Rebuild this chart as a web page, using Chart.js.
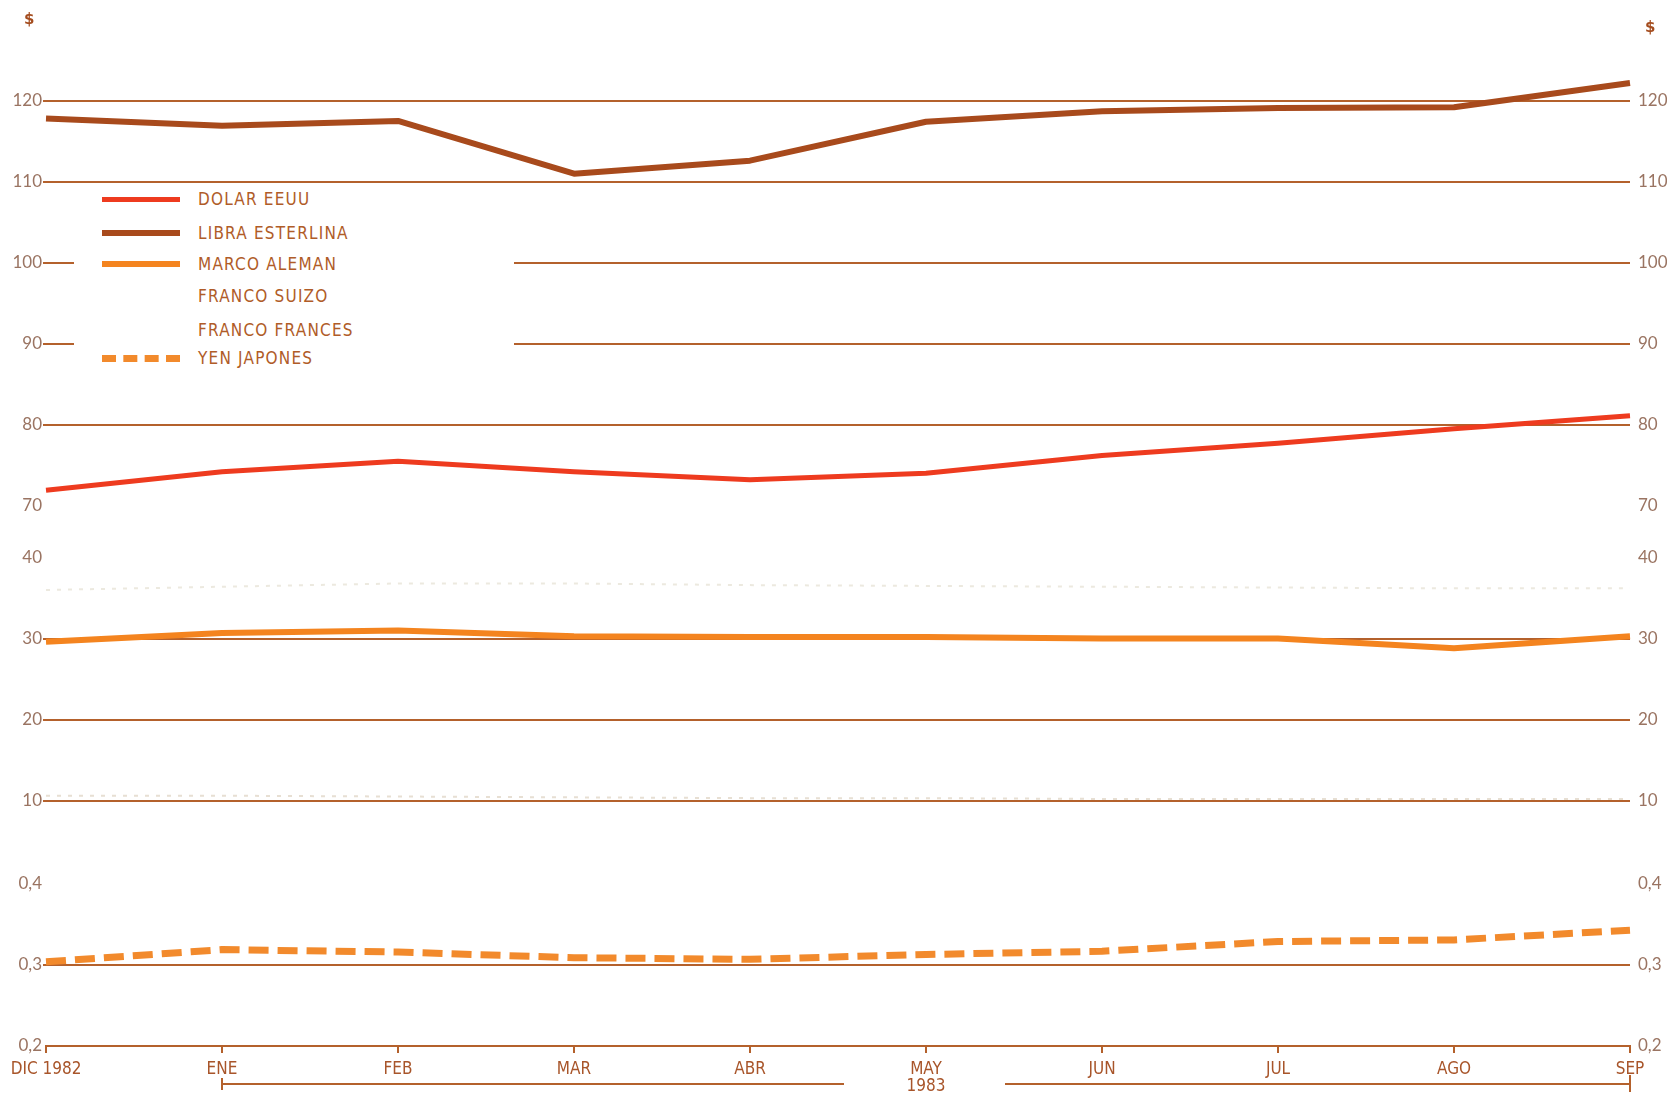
<!DOCTYPE html>
<html>
<head>
<meta charset="utf-8">
<script src="https://cdn.jsdelivr.net/npm/chart.js@4.4.1/dist/chart.umd.min.js"></script>
<style>
  html, body { margin: 0; padding: 0; background: #fff; }
  #wrap { position: relative; width: 1667px; height: 1094px; }
  #legend { position: absolute; left: 74px; top: 186px; width: 440px; height: 190px; background: #fff; }
  .row { position: absolute; left: 0; height: 20px; width: 440px; }
  .swatch { position: absolute; left: 28px; width: 78px; top: 10px; }
  .name { position: absolute; left: 124px; top: 0; font: 17px "Liberation Sans Narrow", "DejaVu Sans Condensed", sans-serif; letter-spacing: 1.2px; color: #b05c28; line-height: 20px; }
  .dollar { position: absolute; font: bold 15px "DejaVu Sans", sans-serif; color: #a44c1e; }
</style>
</head>
<body>
<div id="wrap">
  <canvas id="chart" width="1667" height="1094"></canvas>
  <div id="legend"></div>
  <span class="dollar" style="left:24px; top:10px;">$</span>
  <span class="dollar" style="left:1645px; top:18px;">$</span>
</div>
<script>
// Months (x axis)
const months = ['DIC 1982', 'ENE', 'FEB', 'MAR', 'ABR', ['MAY', '1983'], 'JUN', 'JUL', 'AGO', 'SEP'];

// Series values
const dolar = [71.9, 74.2, 75.5, 74.2, 73.2, 74.0, 76.2, 77.7, 79.5, 81.1];
const libra = [117.8, 116.9, 117.5, 111.0, 112.6, 117.4, 118.7, 119.1, 119.2, 122.2];
const marco = [29.6, 30.7, 31.0, 30.3, 30.2, 30.2, 30.0, 30.0, 28.8, 30.3];
const suizo = [36.0, 36.4, 36.8, 36.8, 36.6, 36.5, 36.4, 36.3, 36.2, 36.2];
const frances = [10.6, 10.6, 10.5, 10.4, 10.3, 10.3, 10.2, 10.2, 10.2, 10.2];
const yen = [0.304, 0.319, 0.316, 0.309, 0.307, 0.313, 0.317, 0.329, 0.331, 0.343];

// Tick labels for the three broken sections of the y axis
const topTicks = [70, 80, 90, 100, 110, 120];
const midTicks = [10, 20, 30, 40];
const lowTicks = [0.2, 0.3, 0.4];
const gridValues = [120, 110, 100, 90, 80, 30, 20, 10, 0.3];

const lineColor = '#b4612c';
const tickColor = '#9a7462';
const xLabelColor = '#a8552a';

const series = [
    { name: 'DOLAR EEUU', data: dolar, axis: 'yTop', color: '#ee3b1f', width: 5, dash: [] },
    { name: 'LIBRA ESTERLINA', data: libra, axis: 'yTop', color: '#a84a1c', width: 6, dash: [] },
    { name: 'MARCO ALEMAN', data: marco, axis: 'yMid', color: '#f4841f', width: 6, dash: [] },
    { name: 'FRANCO SUIZO', data: suizo, axis: 'yMid', color: 'rgba(185,175,140,0.28)', width: 2, dash: [4, 7], hidden: true },
    { name: 'FRANCO FRANCES', data: frances, axis: 'yMid', color: 'rgba(175,150,110,0.3)', width: 2, dash: [4, 7], hidden: true },
    { name: 'YEN JAPONES', data: yen, axis: 'yLow', color: '#f28a2c', width: 7, dash: [20, 9] }
];

// Build one y scale of a stacked (broken) axis
const yScale = (pos, weight, min, max, ticks, unit) => ({
    type: 'linear',
    position: pos,
    stack: pos,
    stackWeight: (max - min) / unit,
    weight: weight,
    min: min,
    max: max,
    afterBuildTicks: s => { s.ticks = ticks.map(v => ({ value: v })); },
    afterFit: s => { s.width = pos === 'left' ? 46 : 37; },
    border: { display: false },
    grid: {
        display: pos === 'left',
        lineWidth: 2,
        tickLength: 3,
        color: c => gridValues.includes(c.tick && c.tick.value) ? lineColor : 'transparent',
        tickColor: c => gridValues.includes(c.tick && c.tick.value) ? lineColor : 'transparent'
    },
    ticks: {
        padding: pos === 'left' ? 1 : 5,
        color: tickColor,
        font: { family: 'Lato, sans-serif', size: 17 },
        callback: v => String(v).replace('.', ',')
    }
});

// Year bracket under the month labels
const yearBracket = {
    id: 'yearBracket',
    afterDraw: (chart) => {
        const xs = chart.scales.x;
        const ctx = chart.ctx;
        const y = xs.top + 38;
        const x1 = xs.getPixelForValue(1);
        const xm = xs.getPixelForValue(5);
        const x2 = xs.getPixelForValue(9);
        ctx.save();
        ctx.strokeStyle = lineColor;
        ctx.lineWidth = 2;
        ctx.beginPath();
        ctx.moveTo(x1, y - 6); ctx.lineTo(x1, y + 6);
        ctx.moveTo(x1, y); ctx.lineTo(xm - 82, y);
        ctx.moveTo(xm + 79, y); ctx.lineTo(x2, y);
        ctx.moveTo(x2, y - 9); ctx.lineTo(x2, y + 8);
        ctx.stroke();
        ctx.restore();
    }
};

const chart = new Chart(document.getElementById('chart'), {
    type: 'line',
    data: {
        labels: months,
        datasets: series.map(s => ({
            label: s.name,
            data: s.data,
            yAxisID: s.axis,
            borderColor: s.color,
            borderWidth: s.width,
            borderDash: s.dash,
            pointRadius: 0,
            tension: 0,
            fill: false,
            borderJoinStyle: 'round'
        }))
    },
    options: {
        responsive: false,
        animation: false,
        layout: { padding: { top: 57, left: 0, right: 0, bottom: 0 } },
        plugins: {
            legend: { display: false },
            tooltip: { enabled: false }
        },
        scales: {
            x: {
                type: 'category',
                offset: false,
                afterFit: s => { s.height = 48; },
                border: { display: true, color: lineColor, width: 2 },
                grid: { drawOnChartArea: false, tickLength: 7, color: lineColor, lineWidth: 2 },
                ticks: {
                    color: xLabelColor,
                    padding: 8,
                    maxRotation: 0,
                    autoSkip: false,
                    font: { family: '"Liberation Sans Narrow", "DejaVu Sans Condensed", sans-serif', size: 17, lineHeight: 1.0 }
                }
            },
            yTop: yScale('left', 3, 66.8, 125.4, topTicks, 10),
            yMid: yScale('left', 2, 4.9, 43.2, midTicks, 10),
            yLow: yScale('left', 1, 0.2, 0.452, lowTicks, 0.1),
            yTopR: yScale('right', 1, 66.8, 125.4, topTicks, 10),
            yMidR: yScale('right', 2, 4.9, 43.2, midTicks, 10),
            yLowR: yScale('right', 3, 0.2, 0.452, lowTicks, 0.1)
        }
    },
    plugins: [yearBracket]
});

// Legend built from the series list
const rowTops = [3, 37, 68, 100, 134, 162];
const legend = document.getElementById('legend');
series.forEach((s, i) => {
    const row = document.createElement('div');
    row.className = 'row';
    row.style.top = rowTops[i] + 'px';
    let swatch = '';
    if (!s.hidden) {
        const border = s.dash.length ? 'dashed' : 'solid';
        swatch = `<div class="swatch" style="border-top:${s.width}px ${border} ${s.color}; margin-top:-${s.width / 2}px"></div>`;
    }
    row.innerHTML = `${swatch}<span class="name">${s.name}</span>`;
    legend.appendChild(row);
});
</script>
</body>
</html>
